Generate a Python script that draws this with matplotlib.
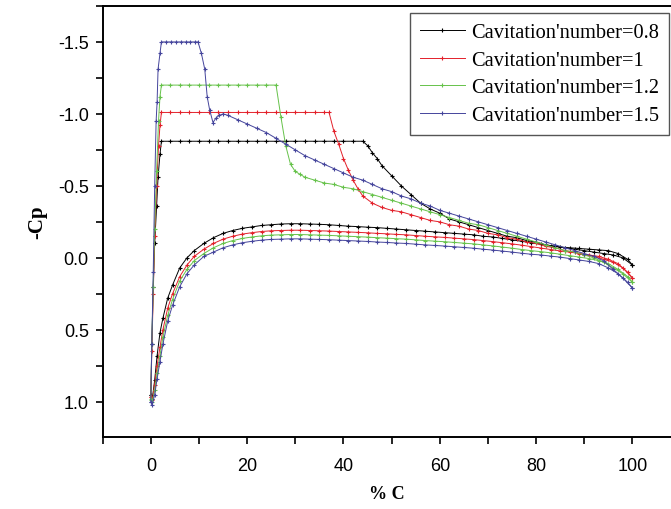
import matplotlib
matplotlib.use("Agg")
import matplotlib.pyplot as plt
from matplotlib.ticker import MultipleLocator

# suction side (upper branch)
x_up_08 = [0, 0.2, 0.5, 0.8, 1.2, 1.5, 1.9, 2.2, 4, 6, 8, 10, 12, 14, 16, 18, 20, 22,
           24, 26, 28, 30, 32, 34, 36, 38, 40, 42, 44, 45, 46, 47, 48, 50, 52, 54, 56,
           58, 60, 62, 64, 66, 68, 70, 72, 74, 76, 78, 80, 82, 84, 86, 88, 90, 92, 94,
           96, 98, 100]
cp_up_08 = [0.95, 0.6, 0.2, -0.1, -0.36, -0.56, -0.72, -0.81, -0.81, -0.81, -0.81,
            -0.81, -0.81, -0.81, -0.81, -0.81, -0.81, -0.81, -0.81, -0.81, -0.81, -0.81,
            -0.81, -0.81, -0.81, -0.81, -0.81, -0.81, -0.81, -0.78, -0.73, -0.69, -0.64,
            -0.57, -0.50, -0.44, -0.38, -0.34, -0.31, -0.27, -0.25, -0.23, -0.21, -0.19,
            -0.17, -0.15, -0.14, -0.12, -0.11, -0.09, -0.08, -0.07, -0.06, -0.05, -0.04,
            -0.03, -0.02, 0.0, 0.05]

x_up_10 = [0, 0.2, 0.5, 0.8, 1.2, 1.6, 1.9, 2.2, 4, 6, 8, 10, 12, 14, 16, 18, 20, 22,
           24, 26, 28, 30, 32, 34, 36, 37, 38, 39, 40, 41, 42, 43, 44, 46, 48, 50, 52,
           54, 56, 58, 60, 62, 64, 66, 68, 70, 72, 74, 76, 78, 80, 82, 84, 86, 88, 90,
           92, 94, 96, 98, 100]
cp_up_10 = [0.97, 0.65, 0.25, -0.15, -0.50, -0.78, -0.92, -1.01, -1.01, -1.01, -1.01,
            -1.01, -1.01, -1.01, -1.01, -1.01, -1.01, -1.01, -1.01, -1.01, -1.01, -1.01,
            -1.01, -1.01, -1.01, -1.01, -0.88, -0.79, -0.69, -0.61, -0.54, -0.48, -0.43,
            -0.38, -0.35, -0.33, -0.32, -0.30, -0.28, -0.26, -0.25, -0.23, -0.22, -0.20,
            -0.19, -0.17, -0.16, -0.14, -0.13, -0.11, -0.10, -0.08, -0.07, -0.05, -0.04,
            -0.02, -0.01, 0.01, 0.03, 0.07, 0.14]

x_up_12 = [0, 0.2, 0.5, 0.8, 1.2, 1.6, 1.9, 2.2, 4, 6, 8, 10, 12, 14, 16, 18, 20, 22,
           24, 26, 27, 28, 29, 30, 31, 32, 34, 36, 38, 40, 42, 44, 46, 48, 50, 52, 54,
           56, 58, 60, 62, 64, 66, 68, 70, 72, 74, 76, 78, 80, 82, 84, 86, 88, 90, 92,
           94, 96, 98, 100]
cp_up_12 = [0.98, 0.6, 0.2, -0.2, -0.6, -0.95, -1.12, -1.20, -1.20, -1.20, -1.20,
            -1.20, -1.20, -1.20, -1.20, -1.20, -1.20, -1.20, -1.20, -1.20, -0.98, -0.78,
            -0.65, -0.60, -0.58, -0.56, -0.54, -0.52, -0.51, -0.49, -0.48, -0.46, -0.44,
            -0.42, -0.40, -0.38, -0.36, -0.34, -0.32, -0.30, -0.28, -0.26, -0.24, -0.23,
            -0.21, -0.19, -0.17, -0.15, -0.13, -0.11, -0.09, -0.07, -0.05, -0.04, -0.02,
            0.0, 0.03, 0.07, 0.11, 0.17]

x_up_15 = [0, 0.2, 0.5, 0.8, 1.1, 1.3, 1.5, 1.9, 2.2, 3.2, 4.2, 5.2, 6.2, 7.2, 8.2,
           9.2, 9.8, 10.5, 11.2, 11.7, 12.2, 12.9, 13.5, 14.2, 15, 16, 18, 20, 22, 24,
           26, 28, 30, 32, 34, 36, 38, 40, 42, 44, 46, 48, 50, 52, 54, 56, 58, 60, 62,
           64, 66, 68, 70, 72, 74, 76, 78, 80, 82, 84, 86, 88, 90, 92, 94, 96, 98, 100]
cp_up_15 = [1.0, 0.6, 0.1, -0.5, -0.95, -1.08, -1.31, -1.42, -1.50, -1.50, -1.50,
            -1.50, -1.50, -1.50, -1.50, -1.50, -1.50, -1.42, -1.31, -1.12, -1.03, -0.94,
            -0.97, -0.99, -1.00, -0.99, -0.96, -0.93, -0.90, -0.87, -0.83, -0.79, -0.75,
            -0.71, -0.68, -0.65, -0.62, -0.59, -0.56, -0.54, -0.51, -0.48, -0.46, -0.43,
            -0.41, -0.38, -0.36, -0.33, -0.31, -0.29, -0.27, -0.25, -0.23, -0.21, -0.19,
            -0.17, -0.15, -0.13, -0.11, -0.09, -0.07, -0.05, -0.03, -0.01, 0.02, 0.08,
            0.14, 0.21]

# pressure side (lower branch)
x_low = [0.0, 0.3, 0.8, 1.3, 1.9, 2.5, 3.5, 4.5, 6, 7.5, 9, 11, 13, 15, 17, 19, 21, 23,
         25, 27, 29, 31, 33, 35, 37, 39, 41, 43, 45, 47, 49, 51, 53, 55, 57, 59, 61, 63,
         65, 67, 69, 71, 73, 75, 77, 79, 81, 83, 85, 87, 89, 91, 93, 95, 97, 99, 100]
cp_low_08 = [0.95, 0.98, 0.85, 0.68, 0.52, 0.42, 0.28, 0.19, 0.07, 0.0, -0.05, -0.10,
             -0.14, -0.17, -0.19, -0.205, -0.215, -0.225, -0.23, -0.235, -0.237, -0.237,
             -0.235, -0.233, -0.23, -0.225, -0.22, -0.217, -0.213, -0.21, -0.205, -0.20,
             -0.195, -0.19, -0.185, -0.18, -0.175, -0.17, -0.165, -0.16, -0.15, -0.145,
             -0.135, -0.125, -0.115, -0.105, -0.095, -0.085, -0.075, -0.07, -0.065,
             -0.06, -0.055, -0.05, -0.03, 0.01, 0.05]
cp_low_10 = [0.97, 0.99, 0.88, 0.75, 0.62, 0.50, 0.35, 0.25, 0.13, 0.05, -0.01, -0.06,
             -0.10, -0.13, -0.15, -0.165, -0.175, -0.183, -0.188, -0.19, -0.192, -0.192,
             -0.19, -0.188, -0.186, -0.183, -0.18, -0.177, -0.174, -0.17, -0.167, -0.163,
             -0.16, -0.155, -0.15, -0.146, -0.142, -0.137, -0.132, -0.127, -0.12, -0.113,
             -0.105, -0.097, -0.088, -0.078, -0.068, -0.058, -0.048, -0.04, -0.03, -0.02,
             -0.01, 0.01, 0.04, 0.10, 0.14]
cp_low_12 = [0.99, 1.0, 0.92, 0.80, 0.68, 0.55, 0.40, 0.29, 0.16, 0.08, 0.02, -0.03,
             -0.07, -0.10, -0.12, -0.135, -0.145, -0.153, -0.158, -0.16, -0.162, -0.162,
             -0.16, -0.158, -0.156, -0.153, -0.15, -0.147, -0.144, -0.14, -0.137, -0.133,
             -0.13, -0.125, -0.12, -0.116, -0.112, -0.107, -0.102, -0.097, -0.09, -0.083,
             -0.075, -0.067, -0.058, -0.05, -0.043, -0.035, -0.025, -0.015, -0.005, 0.005,
             0.02, 0.04, 0.08, 0.13, 0.17]
cp_low_15 = [1.0, 1.02, 0.95, 0.84, 0.72, 0.60, 0.44, 0.33, 0.20, 0.11, 0.05, -0.01,
             -0.04, -0.07, -0.09, -0.105, -0.115, -0.123, -0.128, -0.13, -0.132, -0.132,
             -0.13, -0.128, -0.126, -0.123, -0.12, -0.117, -0.114, -0.11, -0.107, -0.103,
             -0.10, -0.095, -0.09, -0.086, -0.082, -0.077, -0.072, -0.067, -0.06, -0.054,
             -0.047, -0.04, -0.032, -0.025, -0.02, -0.012, -0.005, 0.005, 0.015, 0.025,
             0.04, 0.07, 0.11, 0.17, 0.21]

labels = ["Cavitation'number=0.8", "Cavitation'number=1",
          "Cavitation'number=1.2", "Cavitation'number=1.5"]
colors = ["#000000", "#e3202a", "#66c24a", "#45459c"]

series = [
    (x_up_08, cp_up_08, cp_low_08),
    (x_up_10, cp_up_10, cp_low_10),
    (x_up_12, cp_up_12, cp_low_12),
    (x_up_15, cp_up_15, cp_low_15),
]

fig = plt.figure(figsize=(6.71, 5.10), dpi=100)
ax = fig.add_axes([0.153, 0.141, 0.847, 0.846])

style = dict(linewidth=0.7, marker="+", markersize=3.2, markeredgewidth=0.8)
for (xu, cu, cl), lab, col in zip(series, labels, colors):
    ax.plot(xu, cu, color=col, label=lab, **style)
    ax.plot(x_low, cl, color=col, **style)

ax.set_xlim(-10, 108)
ax.set_ylim(1.245, -1.752)
ax.xaxis.set_major_locator(MultipleLocator(20))
ax.xaxis.set_minor_locator(MultipleLocator(10))
ax.yaxis.set_major_locator(MultipleLocator(0.5))
ax.yaxis.set_minor_locator(MultipleLocator(0.25))
ax.tick_params(which="both", direction="out", length=5, width=1.2,
               top=False, right=False, labelsize=13)
ax.tick_params(axis="x", which="major", pad=9)
ax.tick_params(axis="y", which="major", pad=5)
for lbl in ax.get_xticklabels() + ax.get_yticklabels():
    lbl.set_family("Liberation Sans")
ax.yaxis.set_major_formatter(plt.FuncFormatter(lambda v, p: f"{v:.1f}"))

ax.spines["right"].set_visible(False)
for s in ["left", "bottom", "top"]:
    ax.spines[s].set_linewidth(1.4)

ax.set_xlabel("% C", family="Liberation Serif", fontweight="bold", fontsize=13, labelpad=8)
ax.set_ylabel("-Cp", family="Liberation Serif", fontweight="bold", fontsize=15, labelpad=8)

leg = ax.legend(loc="upper right", bbox_to_anchor=(0.9965, 0.983), borderaxespad=0,
                prop={"family": "Liberation Serif", "size": 14.7},
                fancybox=False, framealpha=1, edgecolor="#555555",
                handlelength=2.2, handletextpad=0.3, borderpad=0.5,
                labelspacing=0.4, markerscale=0.8)
leg.get_frame().set_linewidth(1.0)

fig.savefig("out.png", dpi=100)
